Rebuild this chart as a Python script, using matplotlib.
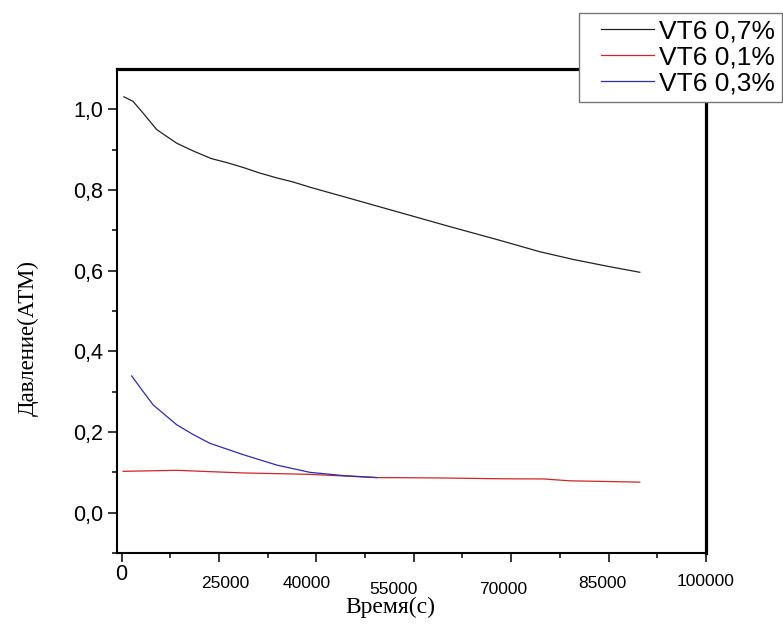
import matplotlib
matplotlib.use("Agg")
import matplotlib.pyplot as plt
from matplotlib.transforms import blended_transform_factory

# ---- data ----
t_07 = [370, 1755, 3300, 5400, 8490, 11150, 13800, 16200, 18700, 21300, 23900,
        26400, 29000, 35200, 42900, 50600, 58300, 64400, 69500, 74800, 79800]
p_07 = [1.031, 1.02, 0.991, 0.95, 0.916, 0.896, 0.878, 0.868, 0.856, 0.842, 0.83,
        0.82, 0.807, 0.779, 0.744, 0.709, 0.675, 0.647, 0.628, 0.611, 0.596]

t_01 = [250, 8490, 18700, 29000, 39300, 49500, 58700, 65000, 69000, 79800]
p_01 = [0.1025, 0.105, 0.0985, 0.095, 0.087, 0.086, 0.084, 0.0836, 0.079, 0.0757]

t_03 = [1560, 3340, 4880, 8490, 11000, 13600, 18700, 23900, 29000, 34100, 39300]
p_03 = [0.339, 0.30, 0.267, 0.218, 0.194, 0.172, 0.144, 0.118, 0.10, 0.092, 0.087]

series_labels = ["VT6 0,7%", "VT6 0,1%", "VT6 0,3%"]

x_tick_labels = ["0", "25000", "40000", "55000", "70000", "85000", "100000"]
x_label_pos = [0, 15900, 28550, 41800, 58700, 74100, 90000]
y_ticks = [0.0, 0.2, 0.4, 0.6, 0.8, 1.0]
y_tick_labels = ["0,0", "0,2", "0,4", "0,6", "0,8", "1,0"]

# ---- figure ----
W, H = 783, 626
fig = plt.figure(figsize=(W / 100, H / 100), dpi=100)
ax = fig.add_axes([117 / W, 1 - 553 / H, (706 - 117) / W, (553 - 69) / H])

c_black, c_red, c_blue = "#222222", "#d02525", "#2b2bb5"
l1, = ax.plot(t_07, p_07, color=c_black, lw=0.9)
l2, = ax.plot(t_01, p_01, color=c_red, lw=0.9)
l3, = ax.plot(t_03, p_03, color=c_blue, lw=0.9)

ax.set_xlim(-700, 90000)
ax.set_ylim(-0.1, 1.1)

ax.set_xticks([0, 15000, 30000, 45000, 60000, 75000, 90000])
ax.set_xticks([7500, 22500, 37500, 52500, 67500, 82500], minor=True)
ax.set_xticklabels([])
ax.set_yticks(y_ticks)
ax.set_yticklabels(y_tick_labels, fontsize=15.5, family="Liberation Sans")
ax.set_yticks([-0.1, 0.1, 0.3, 0.5, 0.7, 0.9], minor=True)

ax.tick_params(axis="both", which="major", direction="out", length=6.5, width=1.1, pad=3.6)
ax.tick_params(axis="both", which="minor", direction="out", length=3.6, width=1.1)

for side in ["left", "bottom"]:
    ax.spines[side].set_linewidth(1.5)
for side in ["top", "right"]:
    ax.spines[side].set_linewidth(2.3)

# custom-placed x tick labels
trans = blended_transform_factory(ax.transData, fig.transFigure)
label_py = [574, 584, 584, 590, 589, 584, 581]
for lab, xp, py in zip(x_tick_labels, x_label_pos, label_py):
    fs = 15.5 if lab == "0" else 12.5
    ax.text(xp, 1 - py / H, lab, transform=trans, ha="center", va="center",
            fontsize=fs, family="Liberation Sans", clip_on=False)

fig.text(390 / W, 1 - 607 / H, "Время(с)", ha="center", va="center",
         fontsize=17, family="Liberation Serif")
fig.text(28 / W, 1 - 338 / H, "Давление(АТМ)", ha="center", va="center",
         rotation=90, fontsize=16.5, family="Liberation Serif")

leg = fig.legend([l1, l2, l3], series_labels, loc="upper right",
                 bbox_to_anchor=(781.7 / W, 1 - 12.7 / H),
                 prop={"family": "Liberation Sans", "size": 19},
                 frameon=True, fancybox=False, framealpha=1,
                 borderpad=0.25, handlelength=2.6, handletextpad=0.18,
                 labelspacing=0.08, borderaxespad=0)
leg.get_frame().set_edgecolor("#777777")
leg.get_frame().set_linewidth(1.0)
leg.set_zorder(10)
# inset the handle lines from the left edge, as in the reference
for ln in leg.get_lines():
    xd = list(ln.get_xdata())
    x0, x1 = xd[0], xd[-1]
    ln.set_xdata([x0 + 0.22 * (x1 - x0), x1])
    ln.set_ydata([ln.get_ydata()[0]] * 2)

fig.savefig("out.png", dpi=100)
